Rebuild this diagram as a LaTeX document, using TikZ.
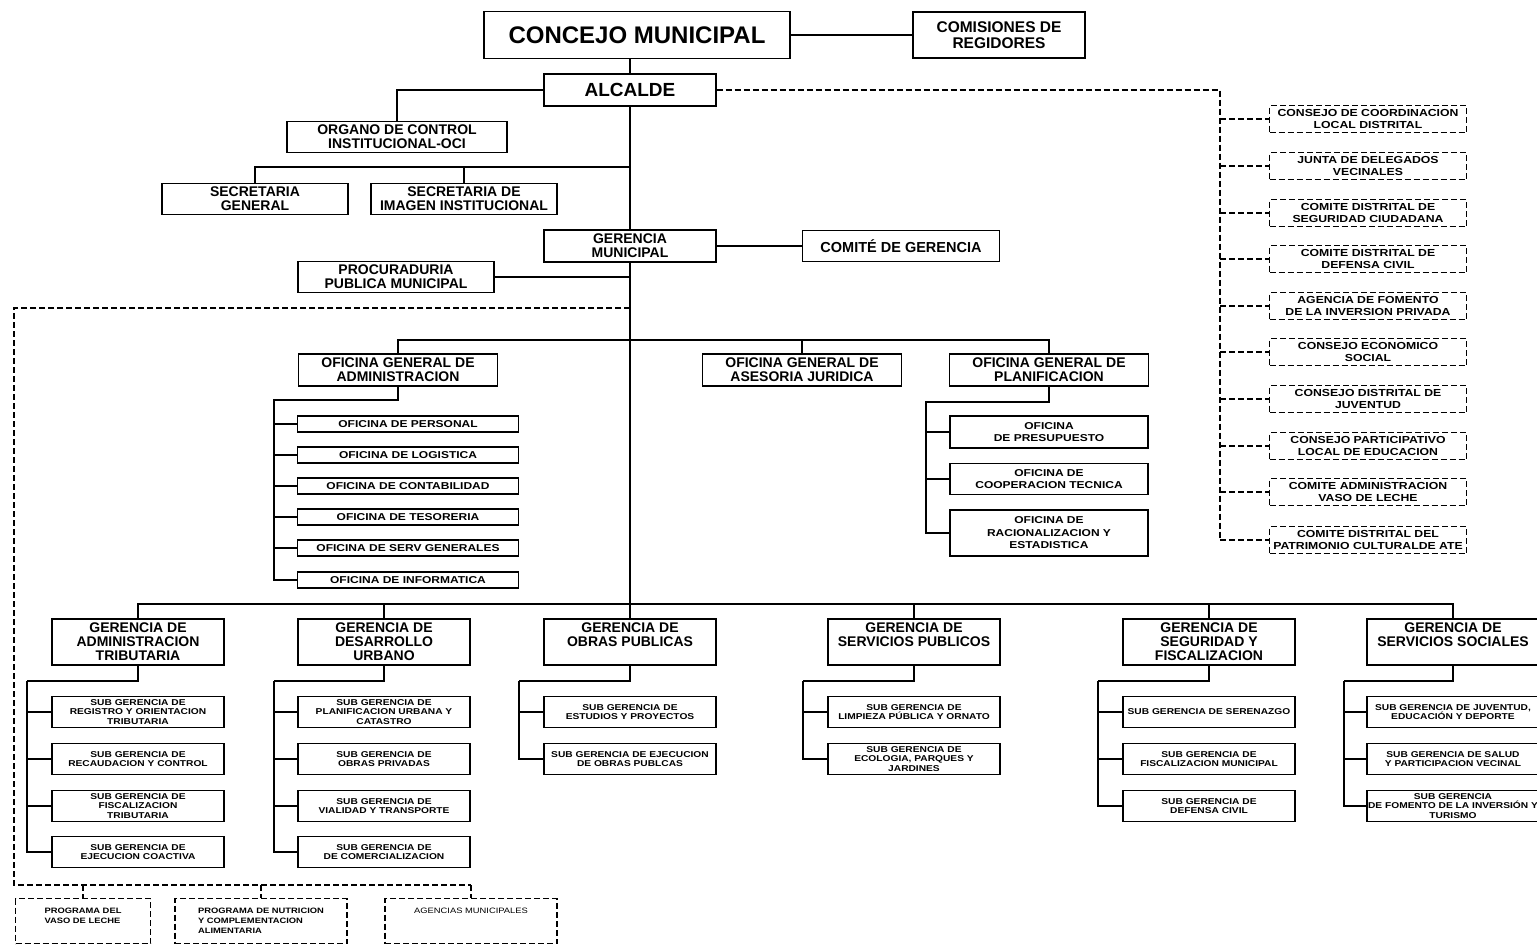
\documentclass[tikz,border=0pt]{standalone}
\usepackage{fontspec}
\setmainfont{Liberation Sans}
\newfontfamily\widefont[FakeStretch=1.2]{Liberation Sans}

\tikzset{
  box/.style={draw, line width=1.3pt, fill=white, align=center, inner sep=1pt,
    font=\bfseries\fontsize{14}{14}\selectfont},
  ofgen/.style={box, minimum width=199, minimum height=32, font=\bfseries\fontsize{14}{14}\selectfont},
  gerbox/.style={box, minimum width=172, minimum height=46, font=\bfseries\fontsize{14}{14}\selectfont},
  oficbox/.style={box, line width=1.1pt, minimum width=221, minimum height=16,
    font=\widefont\bfseries\fontsize{10}{11}\selectfont},
  planbox/.style={box, line width=1.1pt, minimum width=198, font=\widefont\bfseries\fontsize{10}{12.5}\selectfont},
  subbox/.style={box, line width=1.1pt, minimum width=172, minimum height=31,
    font=\widefont\bfseries\fontsize{8.5}{9.8}\selectfont},
  dbox/.style={draw, fill=white, align=center, inner sep=1pt, line width=1.1pt, dash pattern=on 6pt off 3pt,
    minimum width=197, minimum height=27, font=\widefont\bfseries\fontsize{10.2}{12}\selectfont},
  progbox/.style={dbox, minimum height=45, font=\widefont\bfseries\fontsize{7.8}{10}\selectfont},
  conn/.style={line width=1.3pt},
  dconn/.style={line width=1.1pt, dash pattern=on 6pt off 3pt}
}

\begin{document}
\begin{tikzpicture}[x=1pt, y=-1pt]
  \fill[white] (0,0) rectangle (1537,945);
  \useasboundingbox (0,0) rectangle (1537,945);

  % Top of the chart
  \node[box, minimum width=306, minimum height=47, font=\bfseries\fontsize{24}{26}\selectfont] (concejo) at (637,35) {CONCEJO MUNICIPAL};
  \node[box, minimum width=172, minimum height=46, font=\bfseries\fontsize{15.5}{16}\selectfont] (comisiones) at (999,35) {COMISIONES DE\\REGIDORES};
  \node[box, minimum width=172, minimum height=32, font=\bfseries\fontsize{19}{20}\selectfont] (alcalde) at (630,90) {ALCALDE};
  \draw[conn] (concejo) -- (comisiones);
  \draw[conn] (concejo.south -| alcalde) -- (alcalde.north);

  \node[box, minimum width=220, minimum height=31] (organo) at (397,137) {ORGANO DE CONTROL\\INSTITUCIONAL-OCI};
  \draw[conn] (alcalde.west) -| (organo.north);

  \coordinate (sbus) at (630,167);
  \node[box, minimum width=186, minimum height=31] (secgen) at (255,199) {SECRETARIA\\GENERAL};
  \node[box, minimum width=186, minimum height=31] (secimg) at (464,199) {SECRETARIA DE\\IMAGEN INSTITUCIONAL};
  \draw[conn] (sbus) -| (secgen.north);
  \draw[conn] (sbus -| secimg.north) -- (secimg.north);

  \node[box, minimum width=172, minimum height=32] (gerencia) at (630,246) {GERENCIA\\MUNICIPAL};
  \node[box, minimum width=197, minimum height=31, font=\bfseries\fontsize{14.5}{15}\selectfont] (comite) at (901,246) {COMITÉ DE GERENCIA};
  \node[box, minimum width=196, minimum height=31] (procur) at (396,277) {PROCURADURIA\\PUBLICA MUNICIPAL};
  \draw[conn] (alcalde.south) -- (gerencia.north);
  \draw[conn] (gerencia) -- (comite);
  \draw[conn] (procur.east) -- (procur.east -| gerencia);

  % Dashed links on the right
  \coordinate (rtop) at (1220,90);
  \coordinate (rbot) at (1220,540);
  \draw[dconn] (alcalde.east) -- (rtop) -- (rbot);
  \foreach \i/\y/\txt in {1/119/{CONSEJO DE COORDINACION\\LOCAL DISTRITAL},
      2/166/{JUNTA DE DELEGADOS\\VECINALES},
      3/213/{COMITE DISTRITAL DE\\SEGURIDAD CIUDADANA},
      4/259/{COMITE DISTRITAL DE\\DEFENSA CIVIL},
      5/306/{AGENCIA DE FOMENTO\\DE LA INVERSION PRIVADA},
      6/352/{CONSEJO ECONOMICO\\SOCIAL},
      7/399/{CONSEJO DISTRITAL DE\\JUVENTUD},
      8/446/{CONSEJO PARTICIPATIVO\\LOCAL DE EDUCACION},
      9/492/{COMITE ADMINISTRACION\\VASO DE LECHE},
      10/540/{COMITE DISTRITAL DEL\\PATRIMONIO CULTURALDE ATE}}
  {
    \node[dbox] (rc\i) at (1368,\y) {\txt};
    \draw[dconn] (rtop |- rc\i.west) -- (rc\i.west);
  }

  % Dashed programmes on the left
  \coordinate (dA) at (14,308);
  \coordinate (dB) at (14,885);
  \coordinate (dC) at (471,885);
  \draw[dconn] (gerencia |- dA) -- (dA) -- (dB) -- (dC);
  \node[progbox, minimum width=135, align=left] (prog1) at (83,921) {PROGRAMA DEL\\VASO DE LECHE\\\mbox{}};
  \node[progbox, minimum width=172, align=left] (prog2) at (261,921) {PROGRAMA DE NUTRICION\\Y COMPLEMENTACION\\ALIMENTARIA};
  \node[progbox, minimum width=172, font=\widefont\fontsize{7.8}{10}\selectfont] (prog3) at (471,921) {AGENCIAS MUNICIPALES\\\mbox{}\\\mbox{}};
  \foreach \p in {prog1,prog2,prog3}
    \draw[dconn] (\p.north |- dB) -- (\p.north);

  % Oficinas generales
  \coordinate (obus) at (630,340);
  \node[ofgen] (ofadm) at (398,370) {OFICINA GENERAL DE\\ADMINISTRACION};
  \node[ofgen] (ofjur) at (802,370) {OFICINA GENERAL DE\\ASESORIA JURIDICA};
  \node[ofgen] (ofplan) at (1049,370) {OFICINA GENERAL DE\\PLANIFICACION};
  \draw[conn] (ofadm.north) |- (obus) -| (ofplan.north);
  \draw[conn] (ofjur.north) -- (ofjur.north |- obus);

  \coordinate (atrunk) at (274,400);
  \foreach \i/\y/\txt in {1/424/OFICINA DE PERSONAL, 2/455/OFICINA DE LOGISTICA,
      3/486/OFICINA DE CONTABILIDAD, 4/517/OFICINA DE TESORERIA,
      5/548/OFICINA DE SERV GENERALES, 6/580/OFICINA DE INFORMATICA}
  {
    \node[oficbox] (of\i) at (408,\y) {\txt};
    \draw[conn] (atrunk |- of\i.west) -- (of\i.west);
  }
  \draw[conn] (ofadm.south) |- (atrunk) |- (of6.west);

  \coordinate (ptrunk) at (926,402);
  \node[planbox, minimum height=32] (pl1) at (1049,432) {OFICINA\\DE PRESUPUESTO};
  \node[planbox, minimum height=31] (pl2) at (1049,479) {OFICINA DE\\COOPERACION TECNICA};
  \node[planbox, minimum height=46] (pl3) at (1049,533) {OFICINA DE\\RACIONALIZACION Y\\ESTADISTICA};
  \foreach \p in {pl1,pl2}
    \draw[conn] (ptrunk |- \p.west) -- (\p.west);
  \draw[conn] (ofplan.south) |- (ptrunk) |- (pl3.west);

  % Gerencias de linea
  \coordinate (gbus) at (630,604);
  \draw[conn] (gerencia.south) -- (gbus);
  \node[gerbox] (g1) at (138,642) {GERENCIA DE\\ADMINISTRACION\\TRIBUTARIA};
  \node[gerbox] (g2) at (384,642) {GERENCIA DE\\DESARROLLO\\URBANO};
  \node[gerbox] (g3) at (630,642) {GERENCIA DE\\OBRAS PUBLICAS\\\mbox{}};
  \node[gerbox] (g4) at (914,642) {GERENCIA DE\\SERVICIOS PUBLICOS\\\mbox{}};
  \node[gerbox] (g5) at (1209,642) {GERENCIA DE\\SEGURIDAD Y\\FISCALIZACION};
  \node[gerbox] (g6) at (1453,642) {GERENCIA DE\\SERVICIOS SOCIALES\\\mbox{}};
  \draw[conn] (g1.north) |- (gbus) -| (g6.north);
  \foreach \g in {g2,g3,g4,g5}
    \draw[conn] (\g.north) -- (\g.north |- gbus);

  \foreach \c/\x in {1/27,2/274,3/519,4/803,5/1098,6/1344}
  {
    \coordinate (t\c) at (\x,681);
    \draw[conn] (g\c.south) |- (t\c);
  }

  % Sub gerencias
  \foreach \c/\r/\y/\txt in {
      1/1/712/{SUB GERENCIA DE\\REGISTRO Y ORIENTACION\\TRIBUTARIA},
      1/2/759/{SUB GERENCIA DE\\RECAUDACION Y CONTROL},
      1/3/806/{SUB GERENCIA DE\\FISCALIZACION\\TRIBUTARIA},
      1/4/852/{SUB GERENCIA DE\\EJECUCION COACTIVA},
      2/1/712/{SUB GERENCIA DE\\PLANIFICACION URBANA Y\\CATASTRO},
      2/2/759/{SUB GERENCIA DE\\OBRAS PRIVADAS},
      2/3/806/{SUB GERENCIA DE\\VIALIDAD Y TRANSPORTE},
      2/4/852/{SUB GERENCIA DE\\DE COMERCIALIZACION},
      3/1/712/{SUB GERENCIA DE\\ESTUDIOS Y PROYECTOS},
      3/2/759/{SUB GERENCIA DE EJECUCION\\DE OBRAS PUBLCAS},
      4/1/712/{SUB GERENCIA DE\\LIMPIEZA PÚBLICA Y ORNATO},
      4/2/759/{SUB GERENCIA DE\\ECOLOGIA, PARQUES Y\\JARDINES},
      5/1/712/{SUB GERENCIA DE SERENAZGO},
      5/2/759/{SUB GERENCIA DE\\FISCALIZACION MUNICIPAL},
      5/3/806/{SUB GERENCIA DE\\DEFENSA CIVIL},
      6/1/712/{SUB GERENCIA DE JUVENTUD,\\EDUCACIÓN Y DEPORTE},
      6/2/759/{SUB GERENCIA DE SALUD\\Y PARTICIPACION VECINAL},
      6/3/806/{SUB GERENCIA\\DE FOMENTO DE LA INVERSIÓN Y\\TURISMO}}
  {
    \node[subbox] (s\c-\r) at (g\c |- 0,\y) {\txt};
    \draw[conn] (t\c |- s\c-\r.west) -- (s\c-\r.west);
  }
  \foreach \c/\n in {1/4,2/4,3/2,4/2,5/3,6/3}
    \draw[conn] (t\c) |- (s\c-\n.west);
\end{tikzpicture}
\end{document}
